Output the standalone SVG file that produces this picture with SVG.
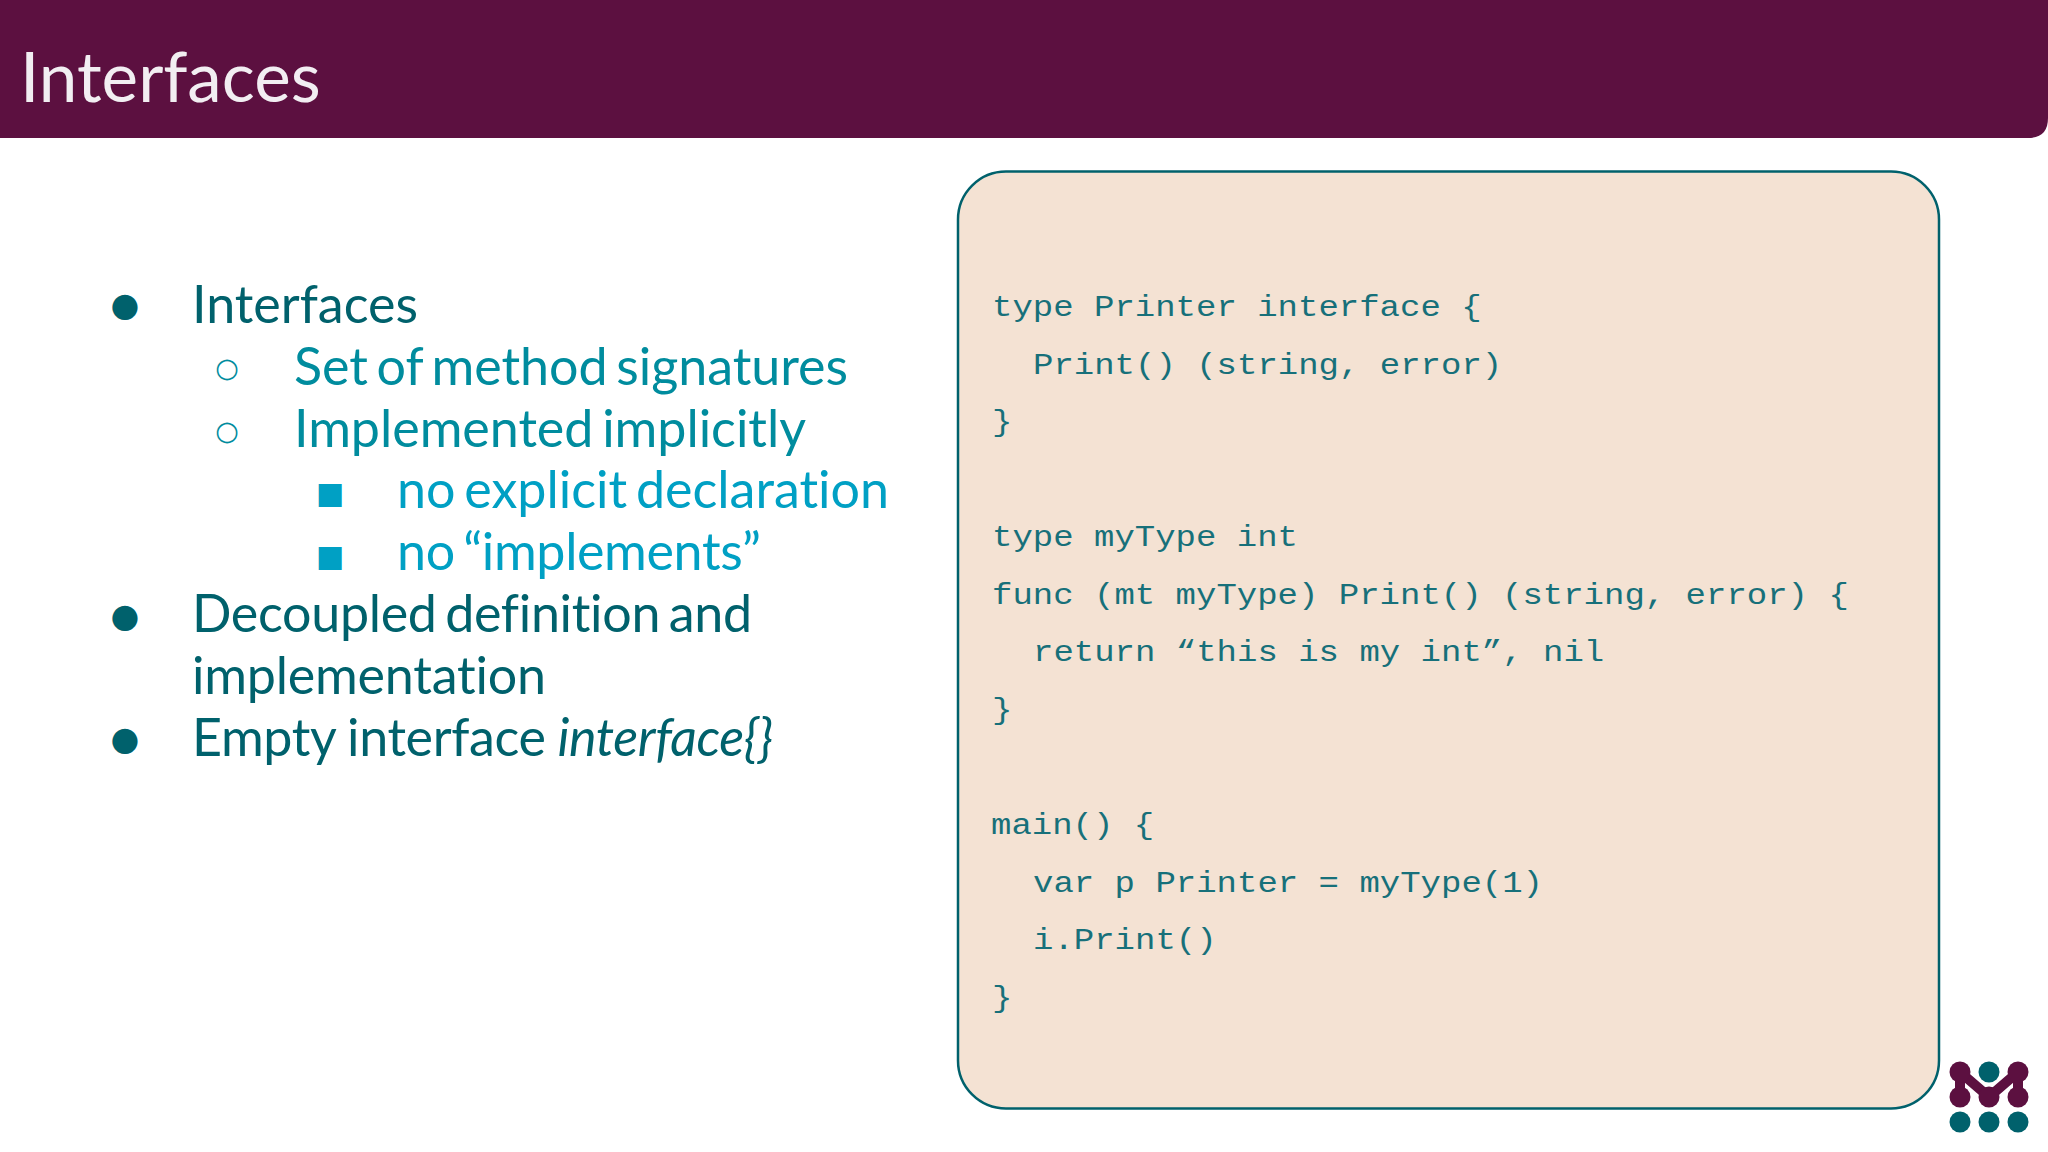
<svg xmlns="http://www.w3.org/2000/svg" width="2048" height="1152" viewBox="0 0 2048 1152">
<style>
.l{font-family:"Lato","Liberation Sans",sans-serif;font-size:52px;font-variant-ligatures:none;word-spacing:-4.5px}
.b{font-family:"DejaVu Sans",sans-serif;text-anchor:middle}
.b1{font-size:33px}.b2{font-size:27px}.b3{font-size:30px}
.a{fill:#00616c}.c{fill:#008c9e}.d{fill:#00a0c4}
.m{font-family:"Liberation Mono",monospace;font-size:30px;fill:#17707a}
.p{fill:#5c1040}.t{fill:#00616c}
</style>
<rect width="2048" height="1152" fill="#ffffff"/>
<path id="header" class="p" d="M0 0H2048V118Q2048 138 2028 138H0Z"/>
<text id="title" x="20" y="102" font-family="Lato, 'Liberation Sans', sans-serif" font-size="69.2" fill="#f2eef2">Interfaces</text>
<g id="bullets">
<text class="b b1 a" x="125" y="315.5">●</text><text class="l a" x="192" y="322.5" textLength="226" lengthAdjust="spacing">Interfaces</text>
<text class="b b2 c" x="227" y="377">○</text><text class="l c" x="294" y="384.5" textLength="554" lengthAdjust="spacing">Set of method signatures</text>
<text class="b b2 c" x="227" y="440">○</text><text class="l c" x="294" y="446.5" textLength="512" lengthAdjust="spacing">Implemented implicitly</text>
<text class="b b3 d" x="330" y="503">■</text><text class="l d" x="397" y="508" textLength="492" lengthAdjust="spacing">no explicit declaration</text>
<text class="b b3 d" x="330" y="566">■</text><text class="l d" x="397" y="570" textLength="364" lengthAdjust="spacing">no “implements”</text>
<text class="b b1 a" x="125" y="627">●</text><text class="l a" x="192" y="632" textLength="560" lengthAdjust="spacing">Decoupled definition and</text>
<text class="l a" x="192" y="694" textLength="354" lengthAdjust="spacing">implementation</text>
<text class="b b1 a" x="125" y="750">●</text><text class="l a" style="word-spacing:-1px" x="192" y="756" textLength="581" lengthAdjust="spacing">Empty interface <tspan font-style="italic">interface{}</tspan></text>
</g>
<g id="code">
<rect x="958" y="171.5" width="981" height="937" rx="48" fill="#f4e2d3" stroke="#00616c" stroke-width="2.5"/>
<text class="m" x="992" y="316" textLength="489.6" lengthAdjust="spacingAndGlyphs">type Printer interface {</text>
<text class="m" x="1033" y="374" textLength="469.2" lengthAdjust="spacingAndGlyphs">Print() (string, error)</text>
<text class="m" x="992" y="431" textLength="20.4" lengthAdjust="spacingAndGlyphs">}</text>
<text class="m" x="992" y="546" textLength="306" lengthAdjust="spacingAndGlyphs">type myType int</text>
<text class="m" x="992" y="604" textLength="856.8" lengthAdjust="spacingAndGlyphs">func (mt myType) Print() (string, error) {</text>
<text class="m" x="1033" y="661" textLength="571.2" lengthAdjust="spacingAndGlyphs">return “this is my int”, nil</text>
<text class="m" x="992" y="719" textLength="20.4" lengthAdjust="spacingAndGlyphs">}</text>
<text class="m" x="991" y="834" textLength="163.2" lengthAdjust="spacingAndGlyphs">main() {</text>
<text class="m" x="1033" y="892" textLength="510" lengthAdjust="spacingAndGlyphs">var p Printer = myType(1)</text>
<text class="m" x="1033" y="949" textLength="183.6" lengthAdjust="spacingAndGlyphs">i.Print()</text>
<text class="m" x="992" y="1007" textLength="20.4" lengthAdjust="spacingAndGlyphs">}</text>
</g>
<g id="logo">
<circle class="t" cx="1989" cy="1072" r="10.5"/>
<circle class="t" cx="1960" cy="1122" r="10.5"/><circle class="t" cx="1989" cy="1122" r="10.5"/><circle class="t" cx="2018" cy="1122" r="10.5"/>
<path d="M1960 1072V1097M1960 1072L1989 1097L2018 1072V1097" fill="none" stroke="#5c1040" stroke-width="10" stroke-linejoin="round"/>
<circle class="p" cx="1960" cy="1072" r="10.5"/><circle class="p" cx="2018" cy="1072" r="10.5"/>
<circle class="p" cx="1960" cy="1097" r="10.5"/><circle class="p" cx="1989" cy="1097" r="10.5"/><circle class="p" cx="2018" cy="1097" r="10.5"/>
</g>
</svg>
